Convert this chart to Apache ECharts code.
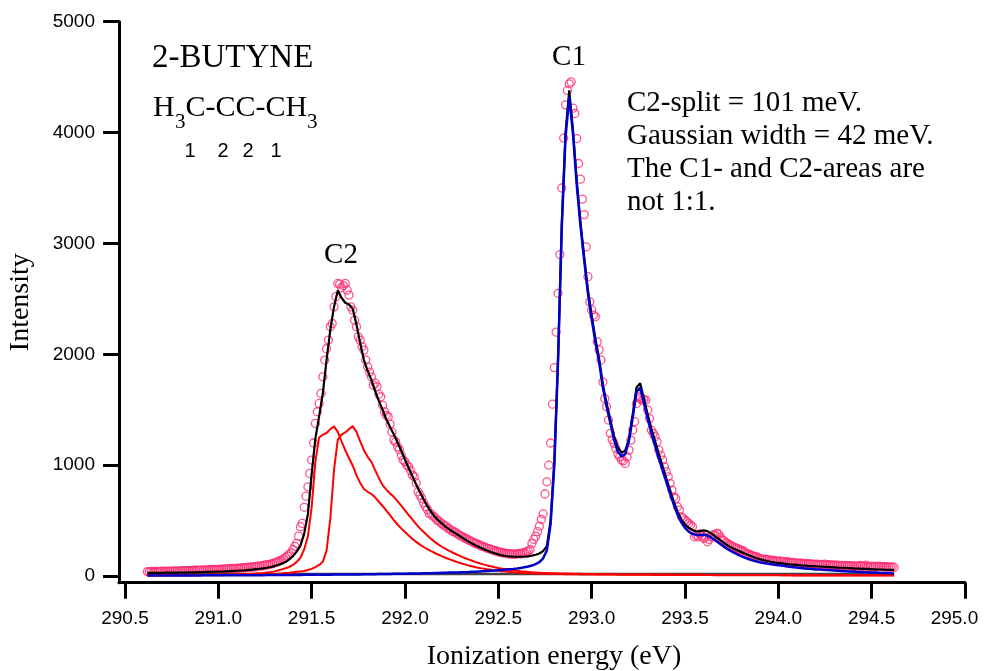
<!DOCTYPE html>
<html><head><meta charset="utf-8">
<script src="https://cdn.jsdelivr.net/npm/echarts@6.0.0/dist/echarts.min.js"></script>
<style>html,body{margin:0;padding:0;background:#fff;overflow:hidden}#c{width:984px;height:671px}</style>
</head><body><div id="c"></div>
<script>
// ---------- axis ticks ----------
const xTicks = [290.5, 291.0, 291.5, 292.0, 292.5, 293.0, 293.5, 294.0, 294.5, 295.0];
const yTicks = [0, 1000, 2000, 3000, 4000, 5000];

// ---------- measured points (open circles) ----------
const dataEnergy = [
290.62,290.63,290.64,290.65,290.66,290.67,290.68,290.69,290.70,290.71,
290.72,290.73,290.74,290.75,290.76,290.77,290.78,290.79,290.80,290.81,
290.82,290.83,290.84,290.85,290.86,290.87,290.88,290.89,290.90,290.91,
290.92,290.93,290.94,290.95,290.96,290.97,290.98,290.99,291.00,291.01,
291.02,291.03,291.04,291.05,291.06,291.07,291.08,291.09,291.10,291.11,
291.12,291.13,291.14,291.15,291.16,291.17,291.18,291.19,291.20,291.21,
291.22,291.23,291.24,291.25,291.26,291.27,291.28,291.29,291.30,291.31,
291.32,291.33,291.34,291.35,291.36,291.37,291.38,291.39,291.40,291.41,
291.42,291.43,291.44,291.45,291.46,291.47,291.48,291.49,291.50,291.51,
291.52,291.53,291.54,291.55,291.56,291.57,291.58,291.59,291.60,291.61,
291.62,291.63,291.64,291.65,291.66,291.67,291.68,291.69,291.70,291.71,
291.72,291.73,291.74,291.75,291.76,291.77,291.78,291.79,291.80,291.81,
291.82,291.83,291.84,291.85,291.86,291.87,291.88,291.89,291.90,291.91,
291.92,291.93,291.94,291.95,291.96,291.97,291.98,291.99,292.00,292.01,
292.02,292.03,292.04,292.05,292.06,292.07,292.08,292.09,292.10,292.11,
292.12,292.13,292.14,292.15,292.16,292.17,292.18,292.19,292.20,292.21,
292.22,292.23,292.24,292.25,292.26,292.27,292.28,292.29,292.30,292.31,
292.32,292.33,292.34,292.35,292.36,292.37,292.38,292.39,292.40,292.41,
292.42,292.43,292.44,292.45,292.46,292.47,292.48,292.49,292.50,292.51,
292.52,292.53,292.54,292.55,292.56,292.57,292.58,292.59,292.60,292.61,
292.62,292.63,292.64,292.65,292.66,292.67,292.68,292.69,292.70,292.71,
292.72,292.73,292.74,292.75,292.76,292.77,292.78,292.79,292.80,292.81,
292.82,292.83,292.84,292.85,292.86,292.87,292.88,292.89,292.90,292.91,
292.92,292.93,292.94,292.95,292.96,292.97,292.98,292.99,293.00,293.01,
293.02,293.03,293.04,293.05,293.06,293.07,293.08,293.09,293.10,293.11,
293.12,293.13,293.14,293.15,293.16,293.17,293.18,293.19,293.20,293.21,
293.22,293.23,293.24,293.25,293.26,293.27,293.28,293.29,293.30,293.31,
293.32,293.33,293.34,293.35,293.36,293.37,293.38,293.39,293.40,293.41,
293.42,293.43,293.44,293.45,293.46,293.47,293.48,293.49,293.50,293.51,
293.52,293.53,293.54,293.55,293.56,293.57,293.58,293.59,293.60,293.61,
293.62,293.63,293.64,293.65,293.66,293.67,293.68,293.69,293.70,293.71,
293.72,293.73,293.74,293.75,293.76,293.77,293.78,293.79,293.80,293.81,
293.82,293.83,293.84,293.85,293.86,293.87,293.88,293.89,293.90,293.91,
293.92,293.93,293.94,293.95,293.96,293.97,293.98,293.99,294.00,294.01,
294.02,294.03,294.04,294.05,294.06,294.07,294.08,294.09,294.10,294.11,
294.12,294.13,294.14,294.15,294.16,294.17,294.18,294.19,294.20,294.21,
294.22,294.23,294.24,294.25,294.26,294.27,294.28,294.29,294.30,294.31,
294.32,294.33,294.34,294.35,294.36,294.37,294.38,294.39,294.40,294.41,
294.42,294.43,294.44,294.45,294.46,294.47,294.48,294.49,294.50,294.51,
294.52,294.53,294.54,294.55,294.56,294.57,294.58,294.59,294.60,294.61,
294.62
];
const dataIntensity = [
40,38,42,39,41,43,40,42,44,41,
43,45,42,44,46,43,47,45,48,46,
49,47,50,48,51,53,50,54,52,55,
53,56,54,57,59,56,60,58,61,63,
60,64,62,66,64,68,70,67,72,70,
74,76,73,78,80,77,83,85,82,88,
91,89,95,98,102,100,108,112,118,124,
130,138,145,155,168,180,196,212,240,268,
295,360,445,475,620,720,805,926,1046,1200,
1377,1482,1557,1647,1797,1948,2050,2128,2248,2278,
2428,2520,2639,2633,2600,2620,2639,2579,2534,2428,
2398,2308,2248,2158,2128,2070,2038,1948,1887,1840,
1797,1722,1740,1707,1640,1617,1540,1482,1450,1437,
1370,1300,1226,1210,1166,1140,1090,1046,1030,1000,
986,950,910,895,840,760,730,700,660,625,
600,565,560,540,530,505,500,480,470,455,
450,430,425,410,400,395,380,372,360,355,
342,335,325,318,310,300,295,285,280,272,
265,260,250,248,240,236,228,226,218,215,
210,208,205,200,202,198,200,196,200,205,
200,208,212,218,225,240,295,330,360,400,
450,510,560,740,850,1000,1200,1550,1880,2200,
2550,2900,3500,3950,4250,4380,4440,4457,4220,4172,
3946,3721,3580,3400,3260,2969,2700,2473,2400,2353,
2338,2113,2040,1948,1750,1600,1527,1407,1287,1230,
1197,1150,1100,1076,1046,1040,1016,1076,1136,1226,
1317,1392,1557,1617,1600,1587,1595,1587,1497,1420,
1317,1287,1256,1211,1136,1090,1046,986,940,895,
836,775,715,700,625,595,535,520,505,490,
475,460,445,354,370,354,380,360,340,350,
309,330,355,372,370,385,380,350,325,318,
300,290,280,272,264,255,250,240,234,228,
215,205,200,190,185,174,178,165,160,155,
150,152,146,148,140,144,138,135,132,136,
128,130,125,129,122,120,124,118,116,114,
118,112,110,113,108,111,106,108,104,107,
102,105,100,108,103,98,102,97,100,95,
99,94,97,92,96,91,94,90,93,88,
92,87,95,89,86,99,88,85,90,84,
88,83,90,85,82,86,80,84,78,82,
78
];

// ---------- fit curves ----------
const fitEnergy = [
290.62,290.64,290.66,290.68,290.70,290.72,290.74,290.76,290.78,290.80,
290.82,290.84,290.86,290.88,290.90,290.92,290.94,290.96,290.98,291.00,
291.02,291.04,291.06,291.08,291.10,291.12,291.14,291.16,291.18,291.20,
291.22,291.24,291.26,291.28,291.30,291.32,291.34,291.36,291.38,291.40,
291.42,291.44,291.46,291.48,291.50,291.52,291.54,291.56,291.58,291.60,
291.62,291.64,291.66,291.68,291.70,291.72,291.74,291.76,291.78,291.80,
291.82,291.84,291.86,291.88,291.90,291.92,291.94,291.96,291.98,292.00,
292.02,292.04,292.06,292.08,292.10,292.12,292.14,292.16,292.18,292.20,
292.22,292.24,292.26,292.28,292.30,292.32,292.34,292.36,292.38,292.40,
292.42,292.44,292.46,292.48,292.50,292.52,292.54,292.56,292.58,292.60,
292.62,292.64,292.66,292.68,292.70,292.72,292.74,292.76,292.78,292.80,
292.82,292.84,292.86,292.88,292.90,292.92,292.94,292.96,292.98,293.00,
293.02,293.04,293.06,293.08,293.10,293.12,293.14,293.16,293.18,293.20,
293.22,293.24,293.26,293.28,293.30,293.32,293.34,293.36,293.38,293.40,
293.42,293.44,293.46,293.48,293.50,293.52,293.54,293.56,293.58,293.60,
293.62,293.64,293.66,293.68,293.70,293.72,293.74,293.76,293.78,293.80,
293.82,293.84,293.86,293.88,293.90,293.92,293.94,293.96,293.98,294.00,
294.02,294.04,294.06,294.08,294.10,294.12,294.14,294.16,294.18,294.20,
294.22,294.24,294.26,294.28,294.30,294.32,294.34,294.36,294.38,294.40,
294.42,294.44,294.46,294.48,294.50,294.52,294.54,294.56,294.58,294.60,
294.62
];
const totalFit = [
28,28,28,29,29,30,30,31,31,32,
32,33,34,34,35,36,37,38,39,40,
41,43,44,46,48,50,52,55,58,62,
66,70,75,82,90,100,112,126,150,180,
220,275,380,560,920,1240,1440,1650,1950,2220,
2430,2575,2510,2465,2450,2410,2270,2100,1950,1850,
1770,1670,1580,1500,1415,1345,1280,1205,1130,1050,
975,900,825,755,690,630,578,535,500,470,
442,418,396,375,354,332,312,293,275,259,
244,230,217,205,195,187,181,177,175,174,
174,175,178,184,192,203,225,270,500,1030,
1960,3180,4000,4380,4020,3570,3190,2880,2580,2350,
2140,1960,1730,1560,1410,1260,1160,1115,1130,1240,
1460,1700,1740,1600,1460,1330,1215,1100,990,880,
775,670,580,510,465,435,415,402,405,412,
405,385,360,335,310,285,265,248,232,218,
203,190,176,163,153,144,136,129,123,118,
114,110,106,103,100,97,95,92,90,88,
86,84,82,80,78,76,75,73,72,70,
68,67,65,64,62,61,59,58,57,56,
55
];
const c1Fit = [
5,5,5,5,5,6,6,6,6,6,
6,6,6,6,6,7,7,7,7,7,
7,7,7,7,7,8,8,8,8,8,
8,8,9,9,9,9,9,10,10,10,
10,10,11,11,11,11,12,12,12,12,
13,13,13,14,14,14,15,15,16,16,
17,17,18,18,19,19,20,20,21,21,
22,23,23,24,25,26,26,27,28,29,
30,31,32,33,34,35,36,38,39,41,
43,45,47,49,52,55,58,61,64,68,
73,79,86,95,108,126,160,230,470,1000,
1950,3150,3960,4320,3990,3530,3160,2850,2550,2320,
2110,1930,1700,1530,1380,1230,1120,1080,1100,1220,
1430,1660,1700,1560,1420,1290,1175,1060,955,850,
745,645,555,485,435,400,380,370,370,372,
365,348,325,300,275,252,232,213,196,180,
166,154,143,133,125,118,112,107,102,98,
94,89,84,80,76,72,69,66,63,60,
58,56,54,52,50,48,46,44,42,40,
38,37,35,34,32,31,29,28,27,25,
24
];
const c2aFit = [
8,8,8,8,9,9,9,9,10,10,
10,10,11,11,11,12,12,12,13,13,
14,14,15,15,16,17,18,19,20,22,
25,28,32,36,42,50,60,70,82,100,
128,165,240,360,620,1030,1250,1275,1290,1325,
1350,1300,1215,1135,1065,995,910,840,785,760,
740,710,670,632,590,550,505,465,430,398,
365,335,308,283,262,243,225,208,192,177,
163,150,138,126,115,105,96,88,80,73,
67,61,56,51,47,43,40,37,34,32,
30,28,26,24,23,22,21,20,19,19,
18,18,17,17,16,16,15,15,15,14,
14,14,13,13,13,13,12,12,12,12,
12,11,11,11,11,11,10,10,10,10,
10,10,10,9,9,9,9,9,9,9,
9,9,8,8,8,8,8,8,8,8,
8,8,7,7,7,7,7,7,7,7,
7,7,7,6,6,6,6,6,6,6,
6,6,6,6,6,6,6,6,5,5,
5,5,5,5,5,5,5,5,5,5,
5
];
const c2bFit = [
5,5,5,5,6,6,6,6,6,6,
6,6,7,7,7,7,7,8,8,8,
8,9,9,9,10,10,11,11,12,12,
13,14,15,17,19,21,24,27,30,34,
38,42,46,55,65,80,100,130,230,520,
960,1230,1275,1295,1325,1352,1300,1215,1135,1075,
1030,955,885,820,780,745,715,675,635,592,
550,508,468,430,398,365,335,308,283,262,
243,225,208,192,177,163,150,138,126,115,
105,96,88,80,73,67,61,56,51,47,
43,40,37,34,32,30,28,27,26,25,
24,23,22,22,21,20,20,19,19,18,
18,17,17,17,16,16,16,15,15,15,
14,14,14,14,13,13,13,13,13,13,
12,12,12,12,12,11,11,11,11,11,
11,10,10,10,10,10,10,10,10,10,
9,9,9,9,9,9,9,9,9,9,
8,8,8,8,8,8,8,8,8,8,
8,8,7,7,7,7,7,7,7,7,
7,7,7,7,7,7,7,7,7,7,
7
];
const bgEnergy = [290.62, 294.62];
const bgLevel = [18, 18];

function pairs(xs, ys) {
  const n = Math.min(xs.length, ys.length);
  const out = [];
  for (let i = 0; i < n; i++) out.push([xs[i], ys[i]]);
  return out;
}

const serif = '"Liberation Serif","Times New Roman",serif';
const sans = '"Liberation Sans",Arial,sans-serif';
const axisColor = '#000';

function txt(x, y, text, size, family, align) {
  return {
    type: 'text', x: x, y: y, z: 100,
    style: {
      text: text, fill: '#000',
      font: size + 'px ' + family,
      align: align || 'left', textAlign: align || 'left',
      verticalAlign: 'middle', textVerticalAlign: 'middle'
    }
  };
}

const chart = echarts.init(document.getElementById('c'), null, {renderer: 'canvas'});
const lineBase = {type: 'line', showSymbol: false, symbol: 'none', animation: false, smooth: false};
const xMaxTick = xTicks[xTicks.length - 1];

chart.setOption({
  animation: false,
  backgroundColor: '#fff',
  grid: {left: 119, right: 19, top: 21.7, bottom: 88.3, containLabel: false, outerBoundsMode: 'none'},
  xAxis: {
    type: 'value', min: 290.468, max: 295,
    axisLine: {show: true, onZero: false, lineStyle: {color: axisColor, width: 3}},
    axisTick: {show: true, customValues: xTicks, length: 16, lineStyle: {color: axisColor, width: 3}},
    axisLabel: {show: true, customValues: xTicks,
      formatter: v => (Math.abs(v - xMaxTick) < 1e-9 ? Number(v).toFixed(1) + '\u2007\u2007' : Number(v).toFixed(1)),
      color: '#000', fontFamily: sans, fontSize: 19, margin: 27, hideOverlap: false},
    splitLine: {show: false},
    name: 'Ionization energy (eV)', nameLocation: 'middle', nameGap: 60,
    nameTextStyle: {fontFamily: serif, fontSize: 28, color: '#000', padding: [0, 0, 0, 24]}
  },
  yAxis: {
    type: 'value', min: -60, max: 5000,
    axisLine: {show: true, onZero: false, lineStyle: {color: axisColor, width: 3}},
    axisTick: {show: true, customValues: yTicks, length: 16, lineStyle: {color: axisColor, width: 3}},
    axisLabel: {show: true, customValues: yTicks, formatter: v => String(Math.round(v)), color: '#000',
      fontFamily: sans, fontSize: 19, margin: 24, hideOverlap: false},
    splitLine: {show: false},
    name: 'Intensity', nameLocation: 'middle', nameGap: 84, nameRotate: 90,
    nameTextStyle: {fontFamily: serif, fontSize: 28, color: '#000'}
  },
  series: [
    {type: 'scatter', name: 'data', data: pairs(dataEnergy, dataIntensity), symbol: 'circle', symbolSize: 8,
      itemStyle: {color: 'rgba(0,0,0,0)', borderColor: '#ff2a70', borderWidth: 1.3}, z: 2, silent: true},
    Object.assign({}, lineBase, {name: 'background', data: pairs(bgEnergy, bgLevel), lineStyle: {color: '#444', width: 2.5}, z: 3}),
    Object.assign({}, lineBase, {name: 'C2a', data: pairs(fitEnergy, c2aFit), lineStyle: {color: '#ff0000', width: 2}, z: 4}),
    Object.assign({}, lineBase, {name: 'C2b', data: pairs(fitEnergy, c2bFit), lineStyle: {color: '#ff0000', width: 2}, z: 4}),
    Object.assign({}, lineBase, {name: 'total', data: pairs(fitEnergy, totalFit), lineStyle: {color: '#000', width: 2.2}, z: 5}),
    Object.assign({}, lineBase, {name: 'C1', data: pairs(fitEnergy, c1Fit), lineStyle: {color: '#0000cc', width: 2.5}, z: 6})
  ],
  graphic: [
    txt(152, 58, '2-BUTYNE', 33, serif),
    txt(153, 108, 'H', 30, serif),
    txt(175, 122, '3', 21, serif),
    txt(185.5, 108, 'C-CC-CH', 30, serif),
    txt(307, 122, '3', 21, serif),
    txt(190, 151, '1', 20, sans, 'center'),
    txt(223, 151, '2', 20, sans, 'center'),
    txt(248, 151, '2', 20, sans, 'center'),
    txt(276, 151, '1', 20, sans, 'center'),
    txt(341, 255, 'C2', 29, serif, 'center'),
    txt(569, 57, 'C1', 29, serif, 'center'),
    txt(627, 103, 'C2-split = 101 meV.', 29, serif),
    txt(627, 136.5, 'Gaussian width = 42 meV.', 29, serif),
    txt(627, 169.5, 'The C1- and C2-areas are', 29, serif),
    txt(627, 202.5, 'not 1:1.', 29, serif)
  ]
});
</script>
</body></html>
